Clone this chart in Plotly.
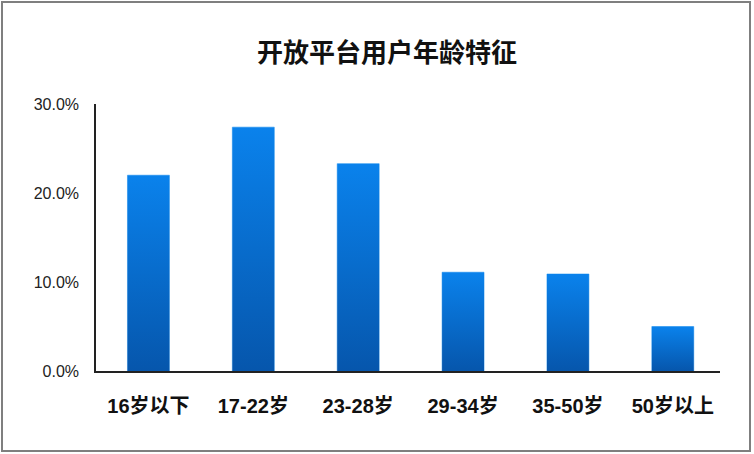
import plotly.graph_objects as go

categories = ["16岁以下", "17-22岁", "23-28岁", "29-34岁", "35-50岁", "50岁以上"]
values = [22.0, 27.4, 23.3, 11.1, 10.9, 5.0]
y_tickvals = [0, 10, 20, 30]
y_ticktext = ["0.0%", "10.0%", "20.0%", "30.0%"]
title_text = "开放平台用户年龄特征"

BAR_W = 0.4
TOP_C = "rgb(10,130,236)"
BOT_C = "rgb(6,86,172)"

fig = go.Figure()

# gradient fill of each bar (derived from values)
for i, v in enumerate(values):
    x0, x1 = i - BAR_W / 2, i + BAR_W / 2
    fig.add_trace(go.Scatter(
        x=[x0, x1, x1, x0, x0], y=[0, 0, v, v, 0],
        mode="lines", line=dict(width=0), fill="toself",
        fillgradient=dict(type="vertical", colorscale=[[0, BOT_C], [1, TOP_C]]),
        hoverinfo="skip", showlegend=False,
    ))

fig.add_trace(go.Bar(
    x=list(range(len(categories))), y=values, width=BAR_W,
    marker=dict(color="rgba(0,0,0,0)", line=dict(color="rgba(120,190,245,0.9)", width=1)),
    showlegend=False,
))

fig.update_layout(
    width=754, height=454,
    paper_bgcolor="white", plot_bgcolor="white",
    margin=dict(l=96, r=34, t=104, b=83),
    title=dict(text=title_text, x=387 / 754, xref="container", xanchor="center",
               y=1 - 53 / 454, yref="container", yanchor="middle",
               font=dict(family="Noto Sans CJK SC", size=26, color="#111111", weight=700)),
    xaxis=dict(range=[-0.5, 5.45], tickmode="array", tickvals=list(range(len(categories))),
               ticktext=categories, showgrid=False, zeroline=False,
               showline=True, linecolor="#222222", linewidth=1.5, ticks="",
               ticklabelstandoff=16,
               tickfont=dict(family="Liberation Sans, Noto Sans CJK SC", size=20, color="#111111", weight=700)),
    yaxis=dict(range=[0, 30], tickmode="array", tickvals=y_tickvals, ticktext=y_ticktext,
               showgrid=False, zeroline=False, showline=True, linecolor="#222222", linewidth=1.5,
               ticks="", ticklabelstandoff=12,
               tickfont=dict(family="Liberation Sans", size=16, color="#222222")),
    shapes=[dict(type="rect", xref="paper", yref="paper",
                 x0=(2 - 96) / 624, x1=(750 - 96) / 624,
                 y0=(371 - 451) / 267, y1=(371 - 2) / 267,
                 line=dict(color="#7f7f7f", width=2), fillcolor="rgba(0,0,0,0)", layer="above")],
)

fig.write_html("out.html", config={"displayModeBar": False},
               post_script="document.body.style.margin='0';")
